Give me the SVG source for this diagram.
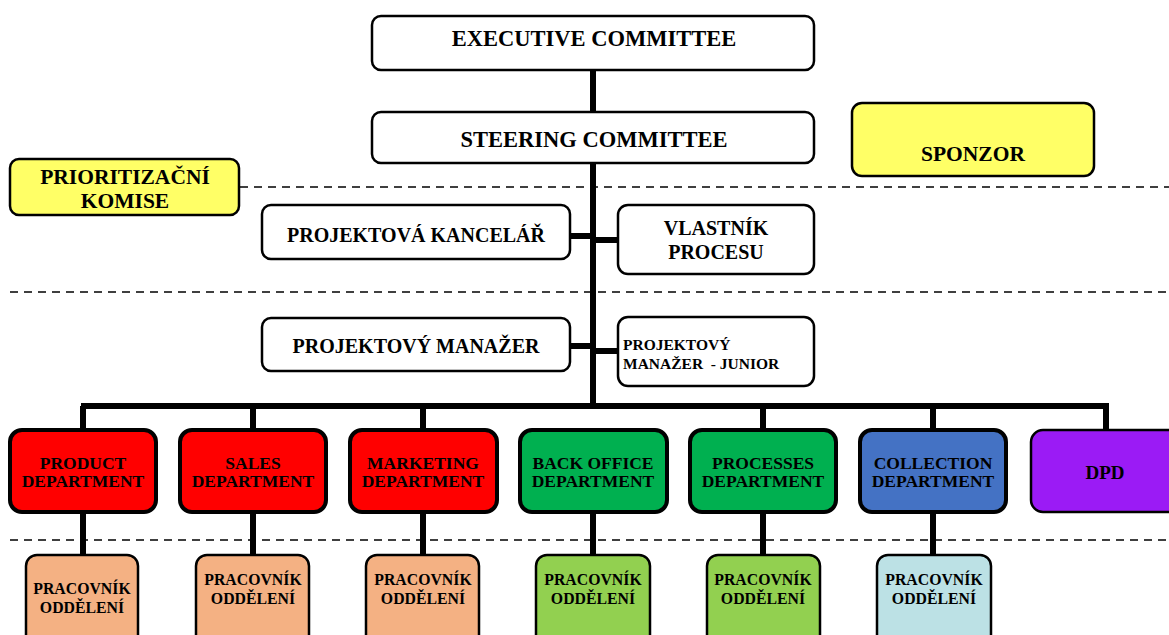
<svg xmlns="http://www.w3.org/2000/svg" width="1169" height="635" viewBox="0 0 1169 635">
  <style>
    text { font-family: "Liberation Serif", "Times New Roman", serif; font-weight: bold; fill: #000; text-anchor: middle; }
    .box { stroke: #000; stroke-width: 2.5; }
    .white { fill: #fff; }
    .yellow { fill: #FFFF66; }
    .dept { stroke: #000; stroke-width: 4; }
    .red { fill: #FF0000; }
    .green { fill: #00B050; }
    .blue { fill: #4472C4; }
    .purple { fill: #9B1BF5; stroke-width: 2.5; }
    .peach { fill: #F4B183; }
    .lime { fill: #92D050; }
    .ice { fill: #BCE1E5; }
    .sep { stroke: #000; stroke-width: 1.5; stroke-dasharray: 8 6; fill: none; }
    .link { stroke: #000; stroke-width: 6; fill: none; }
    .t22 { font-size: 22.5px; }
    .t21 { font-size: 21.5px; }
    .t20 { font-size: 20px; }
    .t18 { font-size: 17.5px; }
    .t19 { font-size: 19px; }
    .t15 { font-size: 15.8px; }
    .t13 { font-size: 15.5px; }
  </style>

  <!-- level separators -->
  <g id="separators">
    <line class="sep" x1="240" y1="187" x2="1169" y2="187"/>
    <line class="sep" x1="10" y1="292" x2="1169" y2="292"/>
    <line class="sep" x1="10" y1="540" x2="1169" y2="540"/>
  </g>

  <!-- connectors -->
  <g id="connectors">
    <line class="link" x1="593" y1="70" x2="593" y2="409"/>
    <line class="link" x1="570" y1="236" x2="593" y2="236"/>
    <line class="link" x1="593" y1="240" x2="618" y2="240"/>
    <line class="link" x1="570" y1="346" x2="593" y2="346"/>
    <line class="link" x1="593" y1="351" x2="618" y2="351"/>
    <line class="link" x1="81" y1="406" x2="1109" y2="406"/>
    <line class="link" x1="83" y1="406" x2="83" y2="430"/>
    <line class="link" x1="253" y1="406" x2="253" y2="430"/>
    <line class="link" x1="423" y1="406" x2="423" y2="430"/>
    <line class="link" x1="763" y1="406" x2="763" y2="430"/>
    <line class="link" x1="933" y1="406" x2="933" y2="430"/>
    <line class="link" x1="1106" y1="406" x2="1106" y2="430"/>
    <line class="link" x1="83" y1="512" x2="83" y2="556"/>
    <line class="link" x1="253" y1="512" x2="253" y2="556"/>
    <line class="link" x1="423" y1="512" x2="423" y2="556"/>
    <line class="link" x1="593" y1="512" x2="593" y2="556"/>
    <line class="link" x1="763" y1="512" x2="763" y2="556"/>
    <line class="link" x1="933" y1="512" x2="933" y2="556"/>
  </g>

  <g id="executive-committee">
    <rect class="box white" x="372" y="16" width="442" height="54" rx="9"/>
    <text class="t22" x="594" y="46">EXECUTIVE COMMITTEE</text>
  </g>

  <g id="steering-committee">
    <rect class="box white" x="372" y="112" width="442" height="51" rx="9"/>
    <text class="t22" x="594" y="147">STEERING COMMITTEE</text>
  </g>

  <g id="sponzor">
    <rect class="box yellow" x="852" y="103" width="242" height="73" rx="10"/>
    <text class="t21" x="973" y="161">SPONZOR</text>
  </g>

  <g id="prioritizacni-komise">
    <rect class="box yellow" x="10" y="159" width="229" height="56" rx="9"/>
    <text class="t21" x="125" y="184">PRIORITIZAČNÍ</text>
    <text class="t21" x="125" y="208">KOMISE</text>
  </g>

  <g id="projektova-kancelar">
    <rect class="box white" x="262" y="205" width="308" height="54" rx="9"/>
    <text class="t20" x="416" y="242">PROJEKTOVÁ KANCELÁŘ</text>
  </g>

  <g id="vlastnik-procesu">
    <rect class="box white" x="618" y="205" width="196" height="69" rx="10"/>
    <text class="t20" x="716" y="235">VLASTNÍK</text>
    <text class="t20" x="716" y="259">PROCESU</text>
  </g>

  <g id="projektovy-manazer">
    <rect class="box white" x="262" y="318" width="308" height="53" rx="9"/>
    <text class="t20" x="416" y="353">PROJEKTOVÝ MANAŽER</text>
  </g>

  <g id="projektovy-manazer-junior">
    <rect class="box white" x="618" y="317" width="196" height="69" rx="10"/>
    <text class="t13" x="623" y="350" style="text-anchor:start">PROJEKTOVÝ</text>
    <text class="t13" x="623" y="369" style="text-anchor:start" xml:space="preserve">MANAŽER  - JUNIOR</text>
  </g>

  <g id="product-department">
    <rect class="dept red" x="10" y="430" width="146" height="82" rx="12"/>
    <text class="t18" x="83" y="469">PRODUCT</text>
    <text class="t18" x="83" y="487">DEPARTMENT</text>
  </g>

  <g id="sales-department">
    <rect class="dept red" x="180" y="430" width="146" height="82" rx="12"/>
    <text class="t18" x="253" y="469">SALES</text>
    <text class="t18" x="253" y="487">DEPARTMENT</text>
  </g>

  <g id="marketing-department">
    <rect class="dept red" x="350" y="430" width="147" height="82" rx="12"/>
    <text class="t18" x="423" y="469">MARKETING</text>
    <text class="t18" x="423" y="487">DEPARTMENT</text>
  </g>

  <g id="back-office-department">
    <rect class="dept green" x="520" y="430" width="147" height="82" rx="12"/>
    <text class="t18" x="593" y="469">BACK OFFICE</text>
    <text class="t18" x="593" y="487">DEPARTMENT</text>
  </g>

  <g id="processes-department">
    <rect class="dept green" x="690" y="430" width="146" height="82" rx="12"/>
    <text class="t18" x="763" y="469">PROCESSES</text>
    <text class="t18" x="763" y="487">DEPARTMENT</text>
  </g>

  <g id="collection-department">
    <rect class="dept blue" x="860" y="430" width="146" height="82" rx="12"/>
    <text class="t18" x="933" y="469">COLLECTION</text>
    <text class="t18" x="933" y="487">DEPARTMENT</text>
  </g>

  <g id="dpd">
    <rect class="dept purple" x="1031" y="430" width="150" height="82" rx="12"/>
    <text class="t19" x="1105" y="479">DPD</text>
  </g>

  <g id="pracovnik-product">
    <rect class="box peach" x="26" y="555" width="112" height="95" rx="11"/>
    <text class="t15" x="82" y="594">PRACOVNÍK</text>
    <text class="t15" x="82" y="613">ODDĚLENÍ</text>
  </g>

  <g id="pracovnik-sales">
    <rect class="box peach" x="196" y="555" width="113" height="95" rx="11"/>
    <text class="t15" x="253" y="585">PRACOVNÍK</text>
    <text class="t15" x="253" y="604">ODDĚLENÍ</text>
  </g>

  <g id="pracovnik-marketing">
    <rect class="box peach" x="366" y="555" width="113" height="95" rx="11"/>
    <text class="t15" x="423" y="585">PRACOVNÍK</text>
    <text class="t15" x="423" y="604">ODDĚLENÍ</text>
  </g>

  <g id="pracovnik-back-office">
    <rect class="box lime" x="536" y="555" width="114" height="95" rx="11"/>
    <text class="t15" x="593" y="585">PRACOVNÍK</text>
    <text class="t15" x="593" y="604">ODDĚLENÍ</text>
  </g>

  <g id="pracovnik-processes">
    <rect class="box lime" x="707" y="555" width="113" height="95" rx="11"/>
    <text class="t15" x="763" y="585">PRACOVNÍK</text>
    <text class="t15" x="763" y="604">ODDĚLENÍ</text>
  </g>

  <g id="pracovnik-collection">
    <rect class="box ice" x="877" y="555" width="114" height="95" rx="11"/>
    <text class="t15" x="934" y="585">PRACOVNÍK</text>
    <text class="t15" x="934" y="604">ODDĚLENÍ</text>
  </g>
</svg>
